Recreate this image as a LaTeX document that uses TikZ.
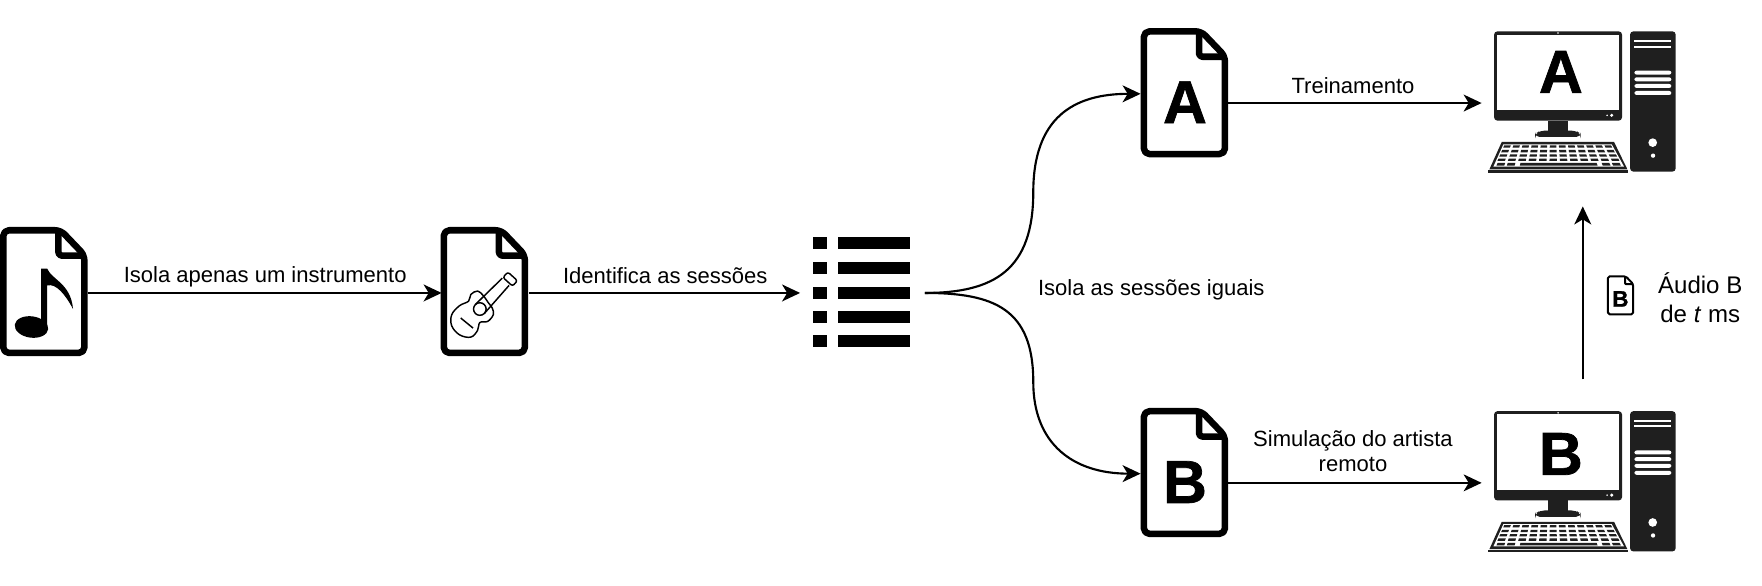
\documentclass[tikz,border=0pt]{standalone}
\usepackage{fontspec}
\setmainfont{Liberation Sans}
\newfontface\heavyfont[FakeBold=1.2]{Liberation Sans Bold}
\usetikzlibrary{arrows.meta}
\tikzset{
  arr/.style={line width=1.9pt,-{Stealth[length=16pt,width=15pt,inset=4.5pt]}},
  lbl/.style={font=\fontsize{19.6}{23}\selectfont,inner sep=0pt,align=center},
  lblbig/.style={font=\fontsize{21.4}{26}\selectfont,inner sep=0pt,align=center},
  letter/.style={font=\fontsize{54}{54}\heavyfont,inner sep=0pt},
  anchorbox/.style={inner sep=0pt,outer sep=0pt,draw=none,rectangle},
  dk/.style={fill=black!88,draw=none},
  declare function={
    kl(\y)=100-(\y-403)*30/67;
    kr(\y)=425+(\y-403)*37/67;
    kx(\u,\y)=kl(\y)+\u*(kr(\y)-kl(\y));
  }
}
% document icon: local size 78 x 115
\newcommand{\docicon}[3]{% x, y, scale
  \begin{scope}[shift={(#1,#2)},scale=#3]
    \draw[line width=#3*5.8pt,line join=round,fill=white,rounded corners=#3*5pt]
      (2.9,2.9) -- (54,2.9) -- (75.1,25) -- (75.1,112.1) -- (2.9,112.1) -- cycle;
    \draw[line width=#3*5.8pt,line join=round,rounded corners=#3*3pt]
      (52,2.9) -- (52,25.5) -- (76,25.5);
  \end{scope}
}
\newcommand{\compicon}[2]{% x, y of zoom origin
  \begin{scope}[shift={(#1,#2)},x=0.2966pt,y=-0.2966pt]
    \fill[dk,rounded corners=3pt] (72,64) rectangle (456,332);
    \fill[white] (82,74) rectangle (446,300);
    \fill[white] (264,69) circle (2.6);
    \fill[white] (425,316) circle (5);
    \fill[white] (411,316) circle (2.6);
    \fill[dk] (235,332) rectangle (293,364);
    \fill[dk,rounded corners=4pt] (195,381) -- (195,372) -- (210,362) -- (318,362) -- (332,372) -- (332,381) -- cycle;
    % tower
    \fill[dk,rounded corners=3pt] (480,64) rectangle (617,485);
    \fill[white] (493,90) rectangle (604,96);
    \fill[white] (493,107) rectangle (604,113);
    \foreach \yy in {182,202,222,243}{\fill[white,rounded corners=2pt] (493,\yy) rectangle (604,\yy+12);}
    \fill[white] (548,398) circle (13);
    \fill[white] (549,437) circle (6.5);
    % keyboard
    \fill[dk] (95,396) -- (432,396) -- (472,478) -- (58,478) -- cycle;
    \fill[dk] (55,481) rectangle (473,488);
    \fill[white] ({kl(403)},403) -- ({kr(403)},403) -- ({kr(470)},470) -- ({kl(470)},470) -- cycle;
    \foreach \ya/\yb in {406/413,420/427,433/440,446/453}{
      \foreach \i in {0,...,11}{
        \fill[dk] ({kx((\i+0.14)/12,\ya)},\ya) -- ({kx((\i+0.86)/12,\ya)},\ya) -- ({kx((\i+0.86)/12,\yb)},\yb) -- ({kx((\i+0.14)/12,\yb)},\yb) -- cycle;
      }
    }
    \foreach \ua/\ub in {0.02/0.08,0.10/0.16,0.20/0.80,0.84/0.90,0.92/0.98}{
      \fill[dk] ({kx(\ua,459)},459) -- ({kx(\ub,459)},459) -- ({kx(\ub,467)},467) -- ({kx(\ua,467)},467) -- cycle;
    }
  \end{scope}
}
\begin{document}
\begin{tikzpicture}[x=1pt,y=-1pt]
\useasboundingbox (0,0) rectangle (1568,521);
\fill[white] (0,0) rectangle (1568,521);

% icons
\docicon{0}{202}{1}
\docicon{392}{202}{1}
\docicon{1015}{25}{1}
\docicon{1015}{363}{1}
\compicon{1308.2}{8.9}
\compicon{1308.2}{346.9}
\docicon{1430}{245}{0.31}

% music note
\begin{scope}[shift={(0,202)}]
  \fill[black,rotate around={-8:(28,89)}] (28,89) ellipse (15 and 9.5);
  \fill[black] (36.5,89) -- (36.5,37) -- (42,37)
    .. controls (46,47) and (63,50) .. (65,73)
    .. controls (58,60) and (50,50) .. (42,52)
    -- (42,89) -- cycle;
\end{scope}

% guitar
\begin{scope}[shift={(392,202)},line width=1.3pt,line join=round]
  \draw plot[smooth cycle,tension=0.6] coordinates {
    (38,61) (33,57) (27,60) (25,66) (17,70) (10,78) (10,88) (17,96)
    (27,98) (33,92) (35,85) (42,84) (47,78) (46,72) (43,68)};
  \draw (35,73) circle (5.6);
  \draw (31,69) -- (55,45.5);
  \draw (39,77) -- (61,52);
  \draw[rotate around={-42:(62,46)},rounded corners=2pt] (56.5,43) rectangle (68,49.5);
  \draw (18,81) -- (29,90);
\end{scope}

% list
\foreach \yy in {216.5,238.5,260.5,282.5,303.5}{
  \fill[black] (723.5,\yy-5.3) rectangle (736,\yy+5.3);
  \fill[black] (746,\yy-5.3) rectangle (810,\yy+5.3);
}

% connector anchors
\node[anchorbox,minimum width=78pt,minimum height=115pt] (doc1) at (39,260.7) {};
\node[anchorbox,minimum width=78pt,minimum height=115pt] (doc2) at (432,260.7) {};
\node[anchorbox,minimum width=111pt,minimum height=100pt] (list) at (767.5,260.7) {};
\node[anchorbox,minimum width=77pt,minimum height=116pt] (docA) at (1053.5,83.5) {};
\node[anchorbox,minimum width=77pt,minimum height=116pt] (docB) at (1053.5,421.5) {};
\node[anchorbox,minimum width=180pt,minimum height=184pt] (compA) at (1408.5,91.7) {};
\node[anchorbox,minimum width=180pt,minimum height=184pt] (compB) at (1408.5,429.7) {};
\coordinate (midA) at (919.5,171);
\coordinate (midB) at (919.5,340);

% letters
\node[letter] (lA) at (1054.5,91) {A};
\node[letter] (lB) at (1054.5,429) {B};
\node[letter] (mA) at (1389,64) {A};
\node[letter] (mB) at (1389,404) {B};
\node[inner sep=0pt,font=\fontsize{20}{20}\heavyfont] (sB) at (1442,266) {B};

% connectors
\draw[arr] (doc1.east) -- (doc2.west);
\draw[arr] (doc2.east) -- (list.west);
\draw[arr] (list.east) .. controls (885,260.7) and (919.5,240) .. (midA)
  .. controls (919.5,105) and (955,83.5) .. (docA.west);
\draw[arr] (list.east) .. controls (885,260.7) and (919.5,275) .. (midB)
  .. controls (919.5,395) and (955,421.5) .. (docB.west);
\draw[arr] (docA.east |- compA.west) -- (compA.west);
\draw[arr] (docB.east |- compB.west) -- (compB.west);
\draw[arr] (compB.north) -- (compA.south);

% labels
\node[lbl] (t1) at (236,246) {Isola apenas um instrumento};
\node[lbl] (t2) at (592,245.5) {Identifica as sessões};
\node[lbl] (t3) at (1024.5,258) {Isola as sessões iguais};
\node[lbl] (t4) at (1204,76) {Treinamento};
\node[lbl] (t5) at (1204,401.5) {Simulação do artista\\remoto};
\node[lblbig] (t6) at (1513,265) {Áudio B\\de \textit{t} ms};
\end{tikzpicture}
\end{document}
